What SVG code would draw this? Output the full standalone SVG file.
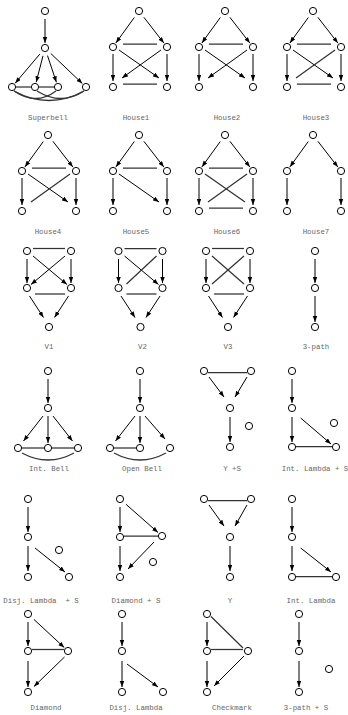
<svg xmlns="http://www.w3.org/2000/svg" width="348" height="715" viewBox="0 0 348 715">
<defs>
<marker id="ah" markerUnits="userSpaceOnUse" markerWidth="6" markerHeight="5" refX="6" refY="2.25" orient="auto"><path d="M0,0 L6,2.25 L0,4.5 z" fill="#000"/></marker>
</defs>
<style>
.n{fill:#fff;stroke:#000;stroke-width:1}
.a{stroke:#000;stroke-width:1;fill:none;marker-end:url(#ah)}
.l{stroke:#333;stroke-width:1.25;fill:none}
.t{font-family:"Liberation Mono","DejaVu Sans Mono",monospace;font-size:7.4px;fill:#666;text-anchor:middle;white-space:pre}
</style>
<rect width="348" height="715" fill="#fff"/>

<!-- Superbell -->
<g id="superbell">
<g id="superbell-edges">
<path class="a" d="M45,19 L45,43"/>
<path class="a" d="M39.8,54.1 L15.2,83.2"/>
<path class="a" d="M43,55.8 L36.2,82.2"/>
<path class="a" d="M47.5,55.6 L56.4,82.3"/>
<path class="a" d="M50.8,53.5 L82.4,83.6"/>
<path class="l" d="M16,87 L31,87"/>
<path class="l" d="M39,87 L54,87"/>
<path class="l" d="M14,91 Q49,110 84,91"/>
<path class="l" d="M14,91 Q36,106 56,91"/>
<path class="l" d="M37,91 Q61,106 84,91"/>
</g>
<g id="superbell-n1"><circle class="n" cx="45" cy="11" r="3.6"/></g>
<g id="superbell-n2"><circle class="n" cx="45" cy="48" r="3.6"/></g>
<g id="superbell-n3"><circle class="n" cx="12" cy="87" r="3.6"/></g>
<g id="superbell-n4"><circle class="n" cx="35" cy="87" r="3.6"/></g>
<g id="superbell-n5"><circle class="n" cx="58" cy="87" r="3.6"/></g>
<g id="superbell-n6"><circle class="n" cx="86" cy="87" r="3.6"/></g>
</g>

<!-- House1 -->
<g id="house1" transform="translate(113,11)">
<g id="house1-edges">
<path class="a" d="M21.3,6.5 L2.9,31.9"/><path class="a" d="M30.9,6.3 L50.9,32.1"/>
<path class="l" d="M10,33 L44,33"/>
<path class="a" d="M0,43 L0,70"/><path class="a" d="M54,43 L54,70"/>
<path class="a" d="M6,39 L46,67"/><path class="a" d="M48,39 L9,67"/>
<path class="l" d="M10,73 L44,73"/>
</g>
<g id="house1-t"><circle class="n" cx="26" cy="0" r="3.6"/></g>
<g id="house1-ml"><circle class="n" cx="0" cy="36" r="3.6"/></g>
<g id="house1-mr"><circle class="n" cx="54" cy="36" r="3.6"/></g>
<g id="house1-bl"><circle class="n" cx="0" cy="76" r="3.6"/></g>
<g id="house1-br"><circle class="n" cx="54" cy="76" r="3.6"/></g>
</g>

<!-- House2 -->
<g id="house2" transform="translate(199,11)">
<g id="house2-edges">
<path class="a" d="M21.3,6.5 L2.9,31.9"/><path class="a" d="M30.9,6.3 L50.9,32.1"/>
<path class="l" d="M10,33 L44,33"/>
<path class="a" d="M0,43 L0,70"/><path class="a" d="M54,43 L54,70"/>
<path class="a" d="M6,39 L46,67"/><path class="a" d="M48,39 L9,67"/>
</g>
<g id="house2-t"><circle class="n" cx="26" cy="0" r="3.6"/></g>
<g id="house2-ml"><circle class="n" cx="0" cy="36" r="3.6"/></g>
<g id="house2-mr"><circle class="n" cx="54" cy="36" r="3.6"/></g>
<g id="house2-bl"><circle class="n" cx="0" cy="76" r="3.6"/></g>
<g id="house2-br"><circle class="n" cx="54" cy="76" r="3.6"/></g>
</g>

<!-- House3 -->
<g id="house3" transform="translate(287,11)">
<g id="house3-edges">
<path class="a" d="M21.3,6.5 L2.9,31.9"/><path class="a" d="M30.9,6.3 L50.9,32.1"/>
<path class="l" d="M10,33 L44,33"/>
<path class="a" d="M0,43 L0,70"/><path class="a" d="M54,43 L54,70"/>
<path class="a" d="M6,39 L46,67"/><path class="l" d="M48,39 L9,67"/>
<path class="l" d="M10,73 L44,73"/>
</g>
<g id="house3-t"><circle class="n" cx="26" cy="0" r="3.6"/></g>
<g id="house3-ml"><circle class="n" cx="0" cy="36" r="3.6"/></g>
<g id="house3-mr"><circle class="n" cx="54" cy="36" r="3.6"/></g>
<g id="house3-bl"><circle class="n" cx="0" cy="76" r="3.6"/></g>
<g id="house3-br"><circle class="n" cx="54" cy="76" r="3.6"/></g>
</g>

<!-- House4 -->
<g id="house4" transform="translate(22,135)">
<g id="house4-edges">
<path class="a" d="M21.3,6.5 L2.9,31.9"/><path class="a" d="M30.9,6.3 L50.9,32.1"/>
<path class="l" d="M10,33 L44,33"/>
<path class="a" d="M0,43 L0,70"/><path class="a" d="M54,43 L54,70"/>
<path class="a" d="M6,39 L46,67"/><path class="l" d="M48,39 L9,67"/>
</g>
<g id="house4-t"><circle class="n" cx="26" cy="0" r="3.6"/></g>
<g id="house4-ml"><circle class="n" cx="0" cy="36" r="3.6"/></g>
<g id="house4-mr"><circle class="n" cx="54" cy="36" r="3.6"/></g>
<g id="house4-bl"><circle class="n" cx="0" cy="76" r="3.6"/></g>
<g id="house4-br"><circle class="n" cx="54" cy="76" r="3.6"/></g>
</g>

<!-- House5 -->
<g id="house5" transform="translate(113,135)">
<g id="house5-edges">
<path class="a" d="M21.3,6.5 L2.9,31.9"/><path class="a" d="M30.9,6.3 L50.9,32.1"/>
<path class="l" d="M10,33 L44,33"/>
<path class="a" d="M0,43 L0,70"/><path class="a" d="M54,43 L54,70"/>
<path class="a" d="M6,39 L46,67"/>
</g>
<g id="house5-t"><circle class="n" cx="26" cy="0" r="3.6"/></g>
<g id="house5-ml"><circle class="n" cx="0" cy="36" r="3.6"/></g>
<g id="house5-mr"><circle class="n" cx="54" cy="36" r="3.6"/></g>
<g id="house5-bl"><circle class="n" cx="0" cy="76" r="3.6"/></g>
<g id="house5-br"><circle class="n" cx="54" cy="76" r="3.6"/></g>
</g>

<!-- House6 -->
<g id="house6" transform="translate(199,135)">
<g id="house6-edges">
<path class="a" d="M21.3,6.5 L2.9,31.9"/><path class="a" d="M30.9,6.3 L50.9,32.1"/>
<path class="l" d="M10,33 L44,33"/>
<path class="a" d="M0,43 L0,70"/><path class="a" d="M54,43 L54,70"/>
<path class="l" d="M6,39 L46,67"/><path class="l" d="M48,39 L9,67"/>
<path class="l" d="M10,73 L44,73"/>
</g>
<g id="house6-t"><circle class="n" cx="26" cy="0" r="3.6"/></g>
<g id="house6-ml"><circle class="n" cx="0" cy="36" r="3.6"/></g>
<g id="house6-mr"><circle class="n" cx="54" cy="36" r="3.6"/></g>
<g id="house6-bl"><circle class="n" cx="0" cy="76" r="3.6"/></g>
<g id="house6-br"><circle class="n" cx="54" cy="76" r="3.6"/></g>
</g>

<!-- House7 -->
<g id="house7" transform="translate(287,135)">
<g id="house7-edges">
<path class="a" d="M21.3,6.5 L2.9,31.9"/><path class="a" d="M30.9,6.3 L50.9,32.1"/>
<path class="a" d="M0,43 L0,70"/><path class="a" d="M54,43 L54,70"/>
</g>
<g id="house7-t"><circle class="n" cx="26" cy="0" r="3.6"/></g>
<g id="house7-ml"><circle class="n" cx="0" cy="36" r="3.6"/></g>
<g id="house7-mr"><circle class="n" cx="54" cy="36" r="3.6"/></g>
<g id="house7-bl"><circle class="n" cx="0" cy="76" r="3.6"/></g>
<g id="house7-br"><circle class="n" cx="54" cy="76" r="3.6"/></g>
</g>

<!-- V1 -->
<g id="v1" transform="translate(27,251)">
<g id="v1-edges">
<path class="l" d="M6,-2.5 L38,-2.5"/>
<path class="a" d="M0,8 L0,32"/><path class="a" d="M44,8 L44,32"/>
<path class="a" d="M6,5 L40,33.5"/><path class="a" d="M38,5 L4,33.5"/>
<path class="l" d="M8,43 L38,43"/>
<path class="a" d="M2.5,45 L16.5,66.5"/><path class="a" d="M41.5,45 L27.5,66.5"/>
</g>
<g id="v1-tl"><circle class="n" cx="0" cy="0" r="3.6"/></g>
<g id="v1-tr"><circle class="n" cx="44" cy="0" r="3.6"/></g>
<g id="v1-ml"><circle class="n" cx="0" cy="37" r="3.6"/></g>
<g id="v1-mr"><circle class="n" cx="44" cy="37" r="3.6"/></g>
<g id="v1-b"><circle class="n" cx="22" cy="76" r="3.6"/></g>
</g>

<!-- V2 -->
<g id="v2" transform="translate(118.5,251)">
<g id="v2-edges">
<path class="l" d="M6,-2.5 L38,-2.5"/>
<path class="a" d="M0,8 L0,32"/><path class="a" d="M44,8 L44,32"/>
<path class="a" d="M6,5 L40,33.5"/><path class="l" d="M38,5 L8,33"/>
<path class="l" d="M8,43 L38,43"/>
<path class="a" d="M2.5,45 L16.5,66.5"/><path class="a" d="M41.5,45 L27.5,66.5"/>
</g>
<g id="v2-tl"><circle class="n" cx="0" cy="0" r="3.6"/></g>
<g id="v2-tr"><circle class="n" cx="44" cy="0" r="3.6"/></g>
<g id="v2-ml"><circle class="n" cx="0" cy="37" r="3.6"/></g>
<g id="v2-mr"><circle class="n" cx="44" cy="37" r="3.6"/></g>
<g id="v2-b"><circle class="n" cx="22" cy="76" r="3.6"/></g>
</g>

<!-- V3 -->
<g id="v3" transform="translate(206,251)">
<g id="v3-edges">
<path class="l" d="M6,-2.5 L38,-2.5"/>
<path class="a" d="M0,8 L0,32"/><path class="a" d="M44,8 L44,32"/>
<path class="l" d="M6,5 L38,33"/><path class="l" d="M38,5 L6,33"/>
<path class="l" d="M8,43 L38,43"/>
<path class="a" d="M2.5,45 L16.5,66.5"/><path class="a" d="M41.5,45 L27.5,66.5"/>
</g>
<g id="v3-tl"><circle class="n" cx="0" cy="0" r="3.6"/></g>
<g id="v3-tr"><circle class="n" cx="44" cy="0" r="3.6"/></g>
<g id="v3-ml"><circle class="n" cx="0" cy="37" r="3.6"/></g>
<g id="v3-mr"><circle class="n" cx="44" cy="37" r="3.6"/></g>
<g id="v3-b"><circle class="n" cx="22" cy="76" r="3.6"/></g>
</g>

<!-- 3-path -->
<g id="path3" transform="translate(315,251)">
<g id="path3-edges">
<path class="a" d="M0,8 L0,32"/><path class="a" d="M0,45 L0,71"/>
</g>
<g id="path3-n1"><circle class="n" cx="0" cy="0" r="3.6"/></g>
<g id="path3-n2"><circle class="n" cx="0" cy="37" r="3.6"/></g>
<g id="path3-n3"><circle class="n" cx="0" cy="76" r="3.6"/></g>
</g>

<!-- Int. Bell -->
<g id="intbell" transform="translate(48,371)">
<g id="intbell-edges">
<path class="a" d="M0,8 L0,32"/>
<path class="a" d="M-5,45 L-24.5,70"/>
<path class="a" d="M0,45 L0,72"/>
<path class="a" d="M5,45 L24.5,70"/>
<path class="l" d="M-26,77 L-4,77"/>
<path class="l" d="M4,77 L26,77"/>
<path class="l" d="M-26,82 Q0,96 26,82"/>
</g>
<g id="intbell-t"><circle class="n" cx="0" cy="0" r="3.6"/></g>
<g id="intbell-m"><circle class="n" cx="0" cy="37" r="3.6"/></g>
<g id="intbell-bl"><circle class="n" cx="-30" cy="77" r="3.6"/></g>
<g id="intbell-bm"><circle class="n" cx="0" cy="77" r="3.6"/></g>
<g id="intbell-br"><circle class="n" cx="30" cy="77" r="3.6"/></g>
</g>

<!-- Open Bell -->
<g id="openbell" transform="translate(140,371)">
<g id="openbell-edges">
<path class="a" d="M0,8 L0,32"/>
<path class="a" d="M-5,45 L-24.5,70"/>
<path class="a" d="M0,45 L0,72"/>
<path class="a" d="M5,45 L25,68"/>
<path class="l" d="M-26,77 L-4,77"/>
<path class="l" d="M-26,82 Q0,96 26,82"/>
</g>
<g id="openbell-t"><circle class="n" cx="0" cy="0" r="3.6"/></g>
<g id="openbell-m"><circle class="n" cx="0" cy="37" r="3.6"/></g>
<g id="openbell-bl"><circle class="n" cx="-30" cy="77" r="3.6"/></g>
<g id="openbell-bm"><circle class="n" cx="0" cy="77" r="3.6"/></g>
<g id="openbell-br"><circle class="n" cx="30" cy="77" r="3.6"/></g>
</g>

<!-- Y +S -->
<g id="ys" transform="translate(204,371)">
<g id="ys-edges">
<path class="l" d="M4,1.5 L43,1.5"/>
<path class="a" d="M5,6 L20,26"/>
<path class="a" d="M43,6 L31,26"/>
<path class="a" d="M26,46 L26,71"/>
</g>
<g id="ys-tl"><circle class="n" cx="0" cy="0" r="3.6"/></g>
<g id="ys-tr"><circle class="n" cx="47" cy="0" r="3.6"/></g>
<g id="ys-c"><circle class="n" cx="26" cy="37" r="3.6"/></g>
<g id="ys-b"><circle class="n" cx="26" cy="76" r="3.6"/></g>
<g id="ys-s"><circle class="n" cx="45" cy="55" r="3.6"/></g>
</g>

<!-- Int. Lambda + S -->
<g id="intlambdas" transform="translate(292,371)">
<g id="intlambdas-edges">
<path class="a" d="M0,8 L0,32"/>
<path class="a" d="M0,46 L0,71"/>
<path class="a" d="M8.7,47 L39,73"/>
<path class="l" d="M4,75.5 L40,75.5"/>
</g>
<g id="intlambdas-t"><circle class="n" cx="0" cy="0" r="3.6"/></g>
<g id="intlambdas-m"><circle class="n" cx="0" cy="37" r="3.6"/></g>
<g id="intlambdas-b"><circle class="n" cx="0" cy="76" r="3.6"/></g>
<g id="intlambdas-br"><circle class="n" cx="44" cy="76" r="3.6"/></g>
<g id="intlambdas-s"><circle class="n" cx="42" cy="52" r="3.6"/></g>
</g>

<!-- Disj. Lambda + S -->
<g id="disjlambdas" transform="translate(28,499)">
<g id="disjlambdas-edges">
<path class="a" d="M0,8 L0,33"/>
<path class="a" d="M0,47 L0,72"/>
<path class="a" d="M7,49 L37,73"/>
</g>
<g id="disjlambdas-t"><circle class="n" cx="0" cy="0" r="3.6"/></g>
<g id="disjlambdas-m"><circle class="n" cx="0" cy="38" r="3.6"/></g>
<g id="disjlambdas-b"><circle class="n" cx="0" cy="78" r="3.6"/></g>
<g id="disjlambdas-br"><circle class="n" cx="41" cy="78" r="3.6"/></g>
<g id="disjlambdas-s"><circle class="n" cx="31" cy="51" r="3.6"/></g>
</g>

<!-- Diamond + S -->
<g id="diamonds" transform="translate(120,499)">
<g id="diamonds-edges">
<path class="a" d="M0,8 L0,33"/>
<path class="a" d="M6,5.3 L38,33.5"/>
<path class="l" d="M4,37 L38,37"/>
<path class="a" d="M0,47 L0,72"/>
<path class="a" d="M34,43 L8,70"/>
</g>
<g id="diamonds-t"><circle class="n" cx="0" cy="0" r="3.6"/></g>
<g id="diamonds-ml"><circle class="n" cx="0" cy="38" r="3.6"/></g>
<g id="diamonds-r"><circle class="n" cx="42" cy="37" r="3.6"/></g>
<g id="diamonds-b"><circle class="n" cx="0" cy="78" r="3.6"/></g>
<g id="diamonds-s"><circle class="n" cx="33" cy="63" r="3.6"/></g>
</g>

<!-- Y -->
<g id="y" transform="translate(204,499)">
<g id="y-edges">
<path class="l" d="M4,1.5 L43,1.5"/>
<path class="a" d="M5,6 L20,27"/>
<path class="a" d="M43,6 L31,27"/>
<path class="a" d="M26,47 L26,72"/>
</g>
<g id="y-tl"><circle class="n" cx="0" cy="0" r="3.6"/></g>
<g id="y-tr"><circle class="n" cx="47" cy="0" r="3.6"/></g>
<g id="y-c"><circle class="n" cx="26" cy="38" r="3.6"/></g>
<g id="y-b"><circle class="n" cx="26" cy="78" r="3.6"/></g>
</g>

<!-- Int. Lambda -->
<g id="intlambda" transform="translate(292,499)">
<g id="intlambda-edges">
<path class="a" d="M0,8 L0,33"/>
<path class="a" d="M0,47 L0,72"/>
<path class="a" d="M8.7,49 L39,73"/>
<path class="l" d="M4,77.5 L40,77.5"/>
</g>
<g id="intlambda-t"><circle class="n" cx="0" cy="0" r="3.6"/></g>
<g id="intlambda-m"><circle class="n" cx="0" cy="38" r="3.6"/></g>
<g id="intlambda-b"><circle class="n" cx="0" cy="78" r="3.6"/></g>
<g id="intlambda-br"><circle class="n" cx="44" cy="78" r="3.6"/></g>
</g>

<!-- Diamond -->
<g id="diamond" transform="translate(28,614)">
<g id="diamond-edges">
<path class="a" d="M0,8 L0,32"/>
<path class="a" d="M5.9,5.4 L36.3,33.6"/>
<path class="l" d="M4,35.5 L36,35.5"/>
<path class="a" d="M0,47 L0,73"/>
<path class="a" d="M36.5,43 L6,72.5"/>
</g>
<g id="diamond-t"><circle class="n" cx="0" cy="0" r="3.6"/></g>
<g id="diamond-ml"><circle class="n" cx="0" cy="37" r="3.6"/></g>
<g id="diamond-r"><circle class="n" cx="40" cy="37" r="3.6"/></g>
<g id="diamond-b"><circle class="n" cx="0" cy="78" r="3.6"/></g>
</g>

<!-- Disj. Lambda -->
<g id="disjlambda" transform="translate(122,614)">
<g id="disjlambda-edges">
<path class="a" d="M0,8 L0,32"/>
<path class="a" d="M0,47 L0,73"/>
<path class="a" d="M5,50 L36,73"/>
</g>
<g id="disjlambda-t"><circle class="n" cx="0" cy="0" r="3.6"/></g>
<g id="disjlambda-m"><circle class="n" cx="0" cy="37" r="3.6"/></g>
<g id="disjlambda-b"><circle class="n" cx="0" cy="78" r="3.6"/></g>
<g id="disjlambda-br"><circle class="n" cx="41" cy="78" r="3.6"/></g>
</g>

<!-- Checkmark -->
<g id="checkmark" transform="translate(207,614)">
<g id="checkmark-edges">
<path class="a" d="M0,8 L0,32"/>
<path class="l" d="M4,2.5 L36,34"/>
<path class="l" d="M4,35.5 L36,35.5"/>
<path class="a" d="M0,47 L0,73"/>
<path class="a" d="M37,42 L7,72"/>
</g>
<g id="checkmark-t"><circle class="n" cx="0" cy="0" r="3.6"/></g>
<g id="checkmark-ml"><circle class="n" cx="0" cy="37" r="3.6"/></g>
<g id="checkmark-r"><circle class="n" cx="41" cy="37" r="3.6"/></g>
<g id="checkmark-b"><circle class="n" cx="0" cy="78" r="3.6"/></g>
</g>

<!-- 3-path + S -->
<g id="path3s" transform="translate(299,614)">
<g id="path3s-edges">
<path class="a" d="M0,8 L0,32"/>
<path class="a" d="M0,47 L0,73"/>
</g>
<g id="path3s-n1"><circle class="n" cx="0" cy="0" r="3.6"/></g>
<g id="path3s-n2"><circle class="n" cx="0" cy="37" r="3.6"/></g>
<g id="path3s-n3"><circle class="n" cx="0" cy="78" r="3.6"/></g>
<g id="path3s-s"><circle class="n" cx="30" cy="55" r="3.6"/></g>
</g>

<!-- Labels -->
<g id="labels">
<text class="t" x="48" y="119.5">Superbell</text>
<text class="t" x="136" y="119.5">House1</text>
<text class="t" x="227" y="119.5">House2</text>
<text class="t" x="316" y="119.5">House3</text>
<text class="t" x="48" y="234">House4</text>
<text class="t" x="136" y="234">House5</text>
<text class="t" x="227" y="234">House6</text>
<text class="t" x="316" y="234">House7</text>
<text class="t" x="49" y="348.5">V1</text>
<text class="t" x="142.5" y="348.5">V2</text>
<text class="t" x="228" y="348.5">V3</text>
<text class="t" x="316" y="348.5">3-path</text>
<text class="t" x="49" y="470.5">Int. Bell</text>
<text class="t" x="142" y="470.5">Open Bell</text>
<text class="t" x="232" y="470.5">Y +S</text>
<text class="t" x="315" y="470.5">Int. Lambda + S</text>
<text class="t" x="41" y="602.5">Disj. Lambda  + S</text>
<text class="t" x="136" y="602.5">Diamond + S</text>
<text class="t" x="230" y="602.5">Y</text>
<text class="t" x="311" y="602.5">Int. Lambda</text>
<text class="t" x="46" y="709.5">Diamond</text>
<text class="t" x="136" y="709.5">Disj. Lambda</text>
<text class="t" x="232" y="709.5">Checkmark</text>
<text class="t" x="306" y="709.5">3-path + S</text>
</g>
</svg>
